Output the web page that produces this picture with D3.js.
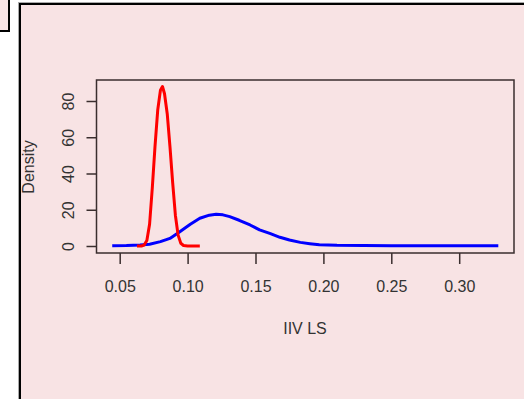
<!DOCTYPE html>
<html><head><meta charset="utf-8">
<script src="https://cdn.jsdelivr.net/npm/d3@7"></script>
<style>html,body{margin:0;padding:0;background:#fff;overflow:hidden}</style>
</head><body>
<svg id="c" width="524" height="399"></svg>
<script>
const xTicks = [0.05, 0.10, 0.15, 0.20, 0.25, 0.30];
const yTicks = [0, 20, 40, 60, 80];
const redX = [0.0627,0.066,0.068,0.070,0.072,0.074,0.076,0.078,0.080,0.0815,0.083,0.085,0.087,0.089,0.091,0.093,0.095,0.097,0.100,0.109];
const redY = [0,0,0.5,3,12,32,55,75,86,88,84,73,55,35,17,6,1.5,0.3,0,0];
const blueX = [0.0445,0.055,0.065,0.072,0.080,0.087,0.094,0.102,0.109,0.116,0.121,0.126,0.131,0.138,0.146,0.153,0.161,0.168,0.175,0.183,0.190,0.197,0.21,0.25,0.30,0.3288];
const blueY = [0.2,0.3,0.6,1,2.4,4.2,7.7,12,15.3,17,17.5,17.2,16.2,14.2,11.6,8.9,6.8,4.8,3.3,2,1.3,0.7,0.4,0.2,0.2,0.2];

const svg = d3.select("#c");
const bg = "#f8e3e4";
const ink = "#3a2e2e";
const txt = "#333333";
const font = "Liberation Sans, Arial, sans-serif";
const fs = 16;
// small box top-left
svg.append("rect").attr("x",-5).attr("y",-5).attr("width",14).attr("height",36)
  .attr("fill",bg).attr("stroke","#000").attr("stroke-width",2);
// main frame
svg.append("rect").attr("x",18.5).attr("y",2.5).attr("width",520).attr("height",410)
  .attr("fill","none").attr("stroke","#aaa").attr("stroke-width",1);
svg.append("rect").attr("x",20).attr("y",4).attr("width",520).attr("height",410)
  .attr("fill",bg).attr("stroke","#000").attr("stroke-width",2);

const x = d3.scaleLinear().domain([0.05,0.30]).range([119.7,459.2]);
const y = d3.scaleLinear().domain([0,80]).range([246,101]);

const box = {l:96.5,t:80,r:514,b:253};
svg.append("rect").attr("x",box.l).attr("y",box.t).attr("width",box.r-box.l).attr("height",box.b-box.t)
  .attr("fill","none").attr("stroke",ink).attr("stroke-width",1.5);

const xa = svg.append("g").attr("transform",`translate(0,${box.b})`)
  .call(d3.axisBottom(x).tickValues(xTicks).tickSize(11).tickPadding(17).tickFormat(d3.format(".2f")));
const ya = svg.append("g").attr("transform",`translate(${box.l},0)`)
  .call(d3.axisLeft(y).tickValues(yTicks).tickSize(10).tickPadding(0).tickFormat(d3.format("d")));
[xa,ya].forEach(a=>{
  a.attr("font-size",fs).attr("font-family",font);
  a.select(".domain").attr("stroke","none");
  a.selectAll(".tick line").attr("stroke",ink).attr("stroke-width",1.5);
  a.selectAll("text").attr("fill",txt).attr("font-family",font).attr("font-size",fs);
});
ya.selectAll(".tick text").attr("transform","rotate(-90)").attr("text-anchor","middle")
  .attr("x",0).attr("y",-28).attr("dy","0.35em");

const line = d3.line().x(d=>x(d[0])).y(d=>y(d[1]));
const blue = blueX.map((v,i)=>[v,blueY[i]]);
const red = redX.map((v,i)=>[v,redY[i]]);
svg.append("path").attr("d",line(blue)).attr("fill","none").attr("stroke","#0000ff").attr("stroke-width",3).attr("stroke-linejoin","round");
svg.append("path").attr("d",line(red)).attr("fill","none").attr("stroke","#ff0000").attr("stroke-width",3).attr("stroke-linejoin","round");

svg.append("text").attr("x",305).attr("y",334).attr("text-anchor","middle")
  .attr("fill",txt).attr("font-family",font).attr("font-size",fs).text("IIV LS");
svg.append("text").attr("transform","translate(34,167) rotate(-90)").attr("text-anchor","middle")
  .attr("fill",txt).attr("font-family",font).attr("font-size",fs).text("Density");
</script>
</body></html>
